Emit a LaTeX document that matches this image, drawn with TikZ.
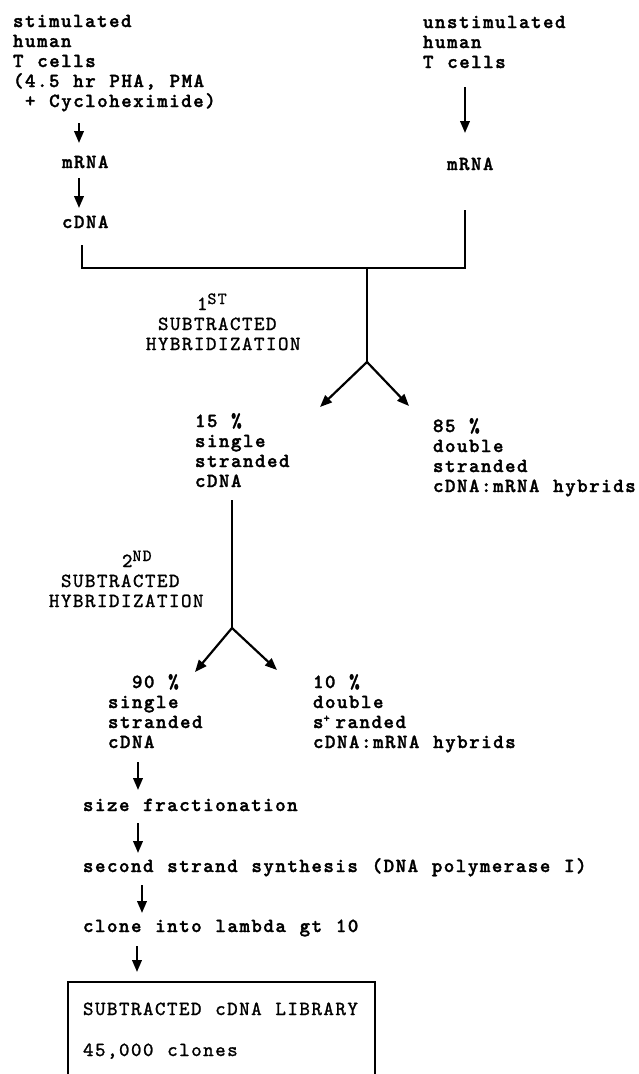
\documentclass[tikz,border=0pt]{standalone}
\usepackage{fontspec}
\newfontfamily\cbold{lmmonolt10-bold.otf}[LetterSpace=7.5, WordSpace=1.1429, FakeBold=1.6]
\newfontfamily\creg{lmmono10-regular.otf}[LetterSpace=7.5, WordSpace=1.1429, FakeBold=1.2]
\usetikzlibrary{arrows.meta}
\newcommand\ls{\rule[-5pt]{0pt}{20pt}}
\newcommand\mfont{\cbold\fontsize{20pt}{20pt}\selectfont\lineskiplimit=-100pt\lineskip=0pt}
\newcommand\lfont{\creg\fontsize{20pt}{20pt}\selectfont\lineskiplimit=-100pt\lineskip=0pt}
\newcommand\supx[1]{\smash{\raisebox{6pt}{\fontsize{17pt}{17pt}\selectfont #1}}}
\begin{document}
\begin{tikzpicture}[x=1pt,y=-1pt,
  txt/.style={anchor=north west, inner sep=0pt, outer sep=0pt, align=left, font=\mfont},
  lbl/.style={txt, font=\lfont},
  ln/.style={line width=2.2pt, line join=miter},
  arr/.style={ln, -{Triangle[length=12pt,width=9.5pt]}}]
\useasboundingbox (0,0) rectangle (639,1074);

% text blocks
\node[txt] (stim) at (13,12) {\ls stimulated\\\ls human\\\ls T cells\\\ls (4.5 hr PHA, PMA\\\ls\hspace*{12pt}+ Cycloheximide)};
\node[txt] (m1) at (62,153) {\ls mRNA};
\node[txt] (c1) at (62,213) {\ls cDNA};
\node[txt] (unst) at (423,13) {\ls unstimulated\\\ls human\\\ls T cells};
\node[txt] (m2) at (447,155) {\ls mRNA};
\node[lbl] (hyb1) at (146,295) {\ls\hspace*{51pt}1\supx{ST}\\\ls\hspace*{12pt}SUBTRACTED\\\ls HYBRIDIZATION};
\node[txt] (s15) at (195,412) {\ls 15 \%\\\ls single\\\ls stranded\\\ls cDNA};
\node[txt] (d85) at (433,417) {\ls 85 \%\\\ls double\\\ls stranded\\\ls cDNA:mRNA hybrids};
\node[lbl] (hyb2) at (49,552) {\ls\hspace*{73pt}2\supx{ND}\\\ls\hspace*{12pt}SUBTRACTED\\\ls HYBRIDIZATION};
\node[txt] (s90) at (108,673) {\ls\hspace*{24pt}90 \%\\\ls single\\\ls stranded\\\ls cDNA};
\node[txt] (d10) at (313,673) {\ls 10 \%\\\ls double\\\ls s\makebox[12pt][l]{\raisebox{6pt}{\fontsize{12pt}{12pt}\selectfont +}}randed\\\ls cDNA:mRNA hybrids};
\node[txt] (sf) at (83,796) {\ls size fractionation};
\node[txt] (ss) at (83,857) {\ls second strand synthesis (DNA polymerase I)};
\node[txt] (cl) at (83,917) {\ls clone into lambda gt 10};
\node[lbl] (lib) at (83,1000) {\ls SUBTRACTED cDNA LIBRARY\\[21pt]\ls 45,000 clones};

% junctions
\coordinate (join) at (367,268);
\coordinate (fork1) at (367,362);
\coordinate (fork2) at (232,628);

% connectors
\draw[arr] ([shift={(66,11)}]stim.south west) -- ([shift={(17,-10)}]m1.north west);
\draw[arr] ([shift={(17,5)}]m1.south west) -- ([shift={(17,-5)}]c1.north west);
\draw[arr] ([shift={(42,14)}]unst.south west) -- ([shift={(18,-22)}]m2.north west);
\draw[ln] ([shift={(20,12)}]c1.south west) |- (join) -| ([shift={(18,35)}]m2.south west);
\draw[ln] (join) -- (fork1);
\draw[arr] (fork1) -- ([shift={(125,-5)}]s15.north west);
\draw[arr] (fork1) -- ([shift={(-24,-11)}]d85.north west);
\draw[ln] ([shift={(37,8)}]s15.south west) -- (fork2);
\draw[arr] (fork2) -- ([shift={(87,-1)}]s90.north west);
\draw[arr] (fork2) -- ([shift={(-36,-3)}]d10.north west);
\draw[arr] ([shift={(30,9)}]s90.south west) -- ([shift={(55,-6)}]sf.north west);
\draw[arr] ([shift={(55,7)}]sf.south west) -- ([shift={(55,-4)}]ss.north west);
\draw[arr] ([shift={(59,8)}]ss.south west) -- ([shift={(59,-4)}]cl.north west);
\draw[arr] ([shift={(54,9)}]cl.south west) -- ([shift={(54,-28)}]lib.north west);

% open box (cut at the bottom edge)
\draw[ln] ([shift={(-15,13)}]lib.south west) |- ([shift={(292,-18)}]lib.north west) -- ([shift={(292,13)}]lib.south west);
\end{tikzpicture}
\end{document}
